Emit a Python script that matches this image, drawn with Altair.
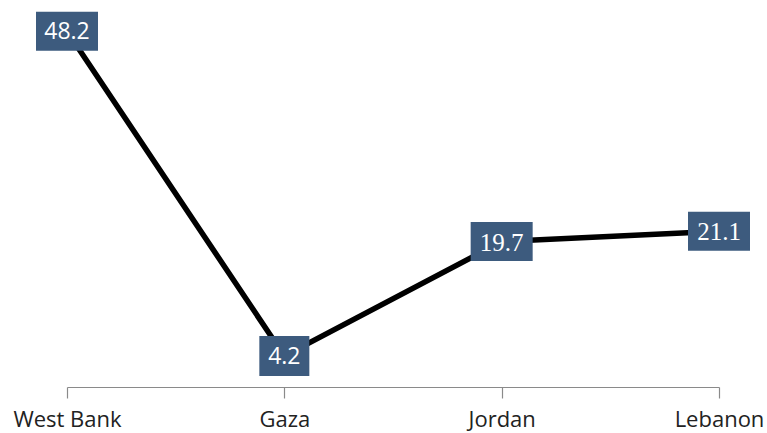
import altair as alt
import pandas as pd

regions = ["West Bank", "Gaza", "Jordan", "Lebanon"]
values = [48.2, 4.2, 19.7, 21.1]
label_font = ["sans", "sans", "serif", "serif"]

df = pd.DataFrame({"region": regions, "value": values, "font": label_font})
df["label"] = df["value"].map(lambda v: f"{v:.1f}")
df["wide"] = df["label"].str.len() > 3

x = alt.X(
    "region:N",
    sort=regions,
    scale=alt.Scale(type="point", padding=0),
    axis=alt.Axis(
        title=None,
        labelAngle=0,
        labelFont="Open Sans",
        labelFontSize=22,
        labelColor="#222222",
        labelPadding=11,
        domainColor="#8a8a8a",
        domainWidth=1.2,
        tickColor="#8a8a8a",
        tickSize=11,
        tickWidth=1.2,
    ),
)
y = alt.Y("value:Q", scale=alt.Scale(domain=[0, 50]), axis=None)

base = alt.Chart(df).encode(x=x, y=y)

line = base.mark_line(color="#000000", strokeWidth=5.5)

box_color = "#3d5b7e"
wide_box = base.transform_filter("datum.wide").mark_rect(
    color=box_color, xOffset=-31, x2Offset=31, yOffset=-19.5, y2Offset=19.5
).encode(x2="region:N", y2="value:Q")
narrow_box = base.transform_filter("!datum.wide").mark_rect(
    color=box_color, xOffset=-25, x2Offset=25, yOffset=-20, y2Offset=20
).encode(x2="region:N", y2="value:Q")

sans_text = base.transform_filter("datum.font == 'sans'").mark_text(
    font="Open Sans", fontSize=23, color="white", baseline="middle", dy=1
).encode(text="label:N")
serif_text = base.transform_filter("datum.font == 'serif'").mark_text(
    font="Liberation Serif", fontSize=25, color="white", baseline="middle", dy=1
).encode(text="label:N")

chart = (
    alt.layer(line, wide_box, narrow_box, sans_text, serif_text)
    .properties(
        width=652,
        height=369,
        padding={"left": 67, "top": 18, "right": 48, "bottom": 46},
        autosize=alt.AutoSizeParams(type="none"),
        background="white",
    )
    .configure_view(stroke=None)
)

chart.save("out.html", embed_options={"renderer": "svg", "actions": False})
